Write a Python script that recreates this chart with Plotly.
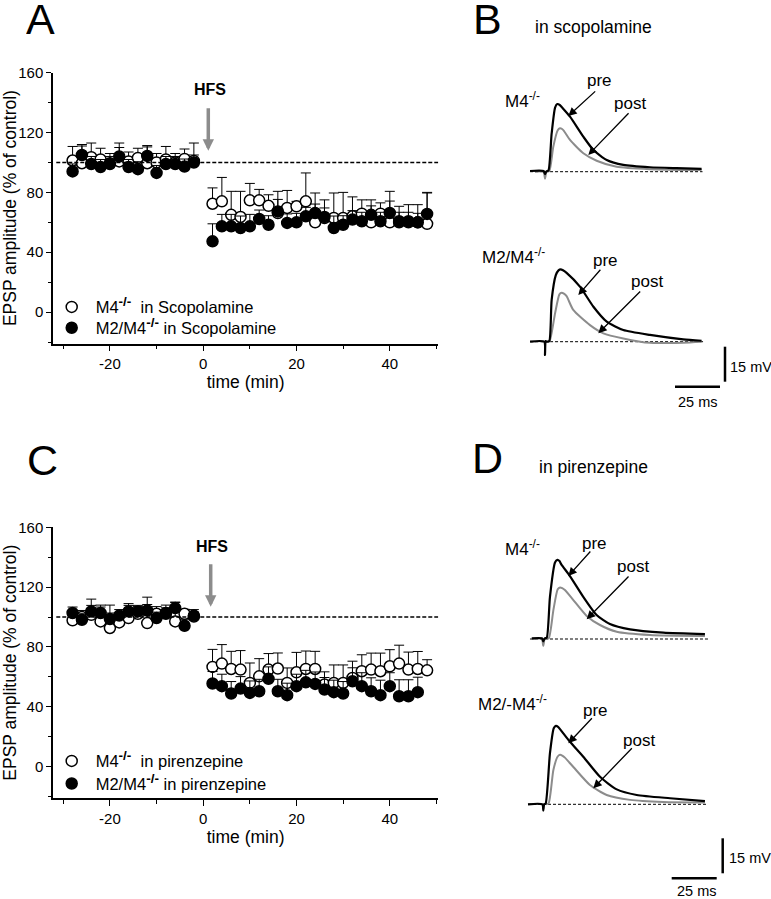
import plotly.graph_objects as go

W, H = 771, 899
FONT = "Liberation Sans, Arial, sans-serif"

# ---------------- data: panels A and C (EPSP amplitude, % of control) ----------------
t_pre = [-28, -26, -24, -22, -20, -18, -16, -14, -12, -10, -8, -6, -4, -2]
t_post = [2, 4, 6, 8, 10, 12, 14, 16, 18, 20, 22, 24, 26, 28, 30, 32, 34, 36, 38, 40, 42, 44, 46, 48]
t_post_c_filled = [2, 4, 6, 8, 10, 12, 14, 16, 18, 20, 22, 24, 26, 28, 30, 32, 34, 36, 38, 40, 42, 44, 46]

# A: M4-/- in scopolamine (open)
a_open_pre = [101.3, 99.5, 103.5, 102, 99.5, 100.7, 100.7, 103, 99.5, 100, 102, 100, 102.4, 101]
a_open_pre_err = [9.4, 12.5, 9.5, 7.5, 6.5, 12.3, 6.3, 6.5, 11.8, 6, 8.7, 6, 6.6, 12]
a_open_post = [72.4, 74, 65, 63.6, 74.7, 74.7, 71, 66.2, 69.6, 70.7, 74, 60, 62.9, 62.9, 62.9, 64,
               65.8, 60, 65.8, 60, 60, 60, 60, 59]
a_open_post_err = [10.6, 16, 15.7, 17.1, 11.3, 7.3, 7.4, 14.5, 11.7, 3.3, 19, 19.6, 12.1, 16.7, 17.1, 13,
                   9.2, 15, 7.2, 20.7, 10.7, 11.8, 11.8, 21]
# A: M2/M4-/- in scopolamine (filled)
a_fill_pre = [94, 105, 99, 97, 99, 104, 97, 95.5, 104.4, 93, 99, 99, 97.3, 100]
a_fill_pre_err = [5, 6, 5, 5, 5, 6, 5, 5, 6, 5, 5, 5, 5, 5]
a_fill_post = [47.3, 57.3, 57.3, 56.2, 57.3, 62.2, 58.4, 67.3, 59.6, 60, 64, 66.2, 63.6, 56.2, 58.4, 61.8,
               60.7, 65, 60.7, 66.2, 60.7, 60.7, 60, 65.6]
a_fill_post_err = [11.7, 8, 8, 8, 8, 6, 6, 8, 6, 6, 6, 6, 6, 8, 6, 6, 6, 6, 6, 8, 6, 6, 6, 14]

# C: M4-/- in pirenzepine (open)
c_open_pre = [97.8, 100, 101.5, 97.1, 92.7, 96.4, 99.3, 102.2, 96, 102.2, 102.7, 97.1, 102.2, 100.4]
c_open_pre_err = [3, 4.4, 10.5, 10.9, 15.3, 6, 9.7, 4.8, 17.3, 4.8, 5.3, 12.7, 3, 3]
c_open_post = [66.7, 68.9, 65.3, 64.9, 56, 60.4, 64.9, 65.6, 56, 63.1, 65.3, 65.3, 54.9, 56, 56, 59.3,
               63.8, 64.9, 63.8, 67.1, 68.9, 64.9, 65.3, 64.4]
c_open_post_err = [11.7, 12.7, 11.8, 12.7, 13.3, 11.8, 10.7, 10.4, 10, 13.3, 12, 11.8, 8.5, 12, 12, 11.2,
                   11, 11, 12.1, 11.1, 12.3, 11.7, 11.7, 7.1]
# C: M2/M4-/- in pirenzepine (filled)
c_fill_pre = [102.7, 98.2, 103.8, 102.7, 98.7, 101, 103.8, 103.8, 104.4, 99.3, 102.2, 106, 94.2, 101]
c_fill_pre_err = [4, 4, 4, 4, 4, 4, 4, 4, 4, 4, 4, 4, 4, 4]
c_fill_post = [55.6, 53.8, 48.9, 52.2, 49.3, 50.4, 58.7, 50.4, 47.8, 53.8, 56.4, 55.3, 51.6, 49.8, 48.9,
               57.1, 53.8, 50.4, 47.8, 53.8, 47.1, 47.1, 49.8]
c_fill_post_err = [8, 8, 8, 8, 8, 8, 8, 8, 8, 8, 8, 8, 8, 8, 8, 9, 9, 9, 10, 9, 11, 11, 10]

x_ticks = [-20, 0, 20, 40]
x_ticktext = ["-20", "0", "20", "40"]
x_minor = [-30, -10, 10, 30, 50]
y_ticks = [0, 40, 80, 120, 160]
y_ticktext = ["0", "40", "80", "120", "160"]
y_minor = [-20, 20, 60, 100, 140]

# ---------------- data: panels B and D (EPSP traces, ms / mV) ----------------
b_m4_pre_t = [-8.3, -0.8, 0, 0.8, 1.9, 3.7, 5.6, 6.8, 8.2, 9.5, 13.9, 21.3, 26.9, 34.3, 43.5, 58.3, 73, 87]
b_m4_pre_v = [0.3, 0.3, -1, 0.2, 0.5, 16.4, 27.5, 29, 28.6, 27.5, 23.6, 15, 9.3, 5, 2.9, 1.9, 1.5, 1.2]
b_m4_post_t = [-5.6, -0.8, 0, 0.8, 2.4, 4.6, 7, 8.3, 9.5, 10.5, 13.9, 21.3, 28.7, 39.8, 58.3, 87]
b_m4_post_v = [0, 0, -3, 0, 0.3, 10.7, 17.7, 18.6, 18.3, 17.5, 13.6, 7.9, 4.7, 2.1, 1.1, 0.7]
b_m24_pre_t = [-8.3, -0.4, 0, 0.4, 1.2, 2.4, 3.7, 6, 7.5, 8.7, 10, 12, 19.4, 26.9, 34.3, 43.5, 58.3, 76.8, 87]
b_m24_pre_v = [0, 0, -5.7, 0.3, 0, 0.3, 17.9, 28.5, 30.6, 31, 30.6, 29.5, 23.6, 15, 8.6, 5, 2.9, 1, 0.4]
b_m24_post_t = [1.5, 2.6, 5.6, 8, 9.3, 10.5, 12, 15.7, 25, 32.4, 43.5, 58.3, 76.8, 87]
b_m24_post_v = [0, 0.3, 12.2, 20.3, 21, 20.6, 19.5, 13.6, 7.1, 3.6, 1.4, -0.5, -0.4, 0]

d_m4_pre_t = [-6.4, -0.8, 0, 0.8, 1.9, 3.7, 6.5, 7.8, 9, 10, 14.8, 22.2, 29.6, 37, 48.2, 66.7, 89.8]
d_m4_pre_v = [0.3, 0.3, -1, 0.3, 0.5, 18.1, 32.8, 33.9, 33.4, 32, 27, 18.1, 10.3, 6.4, 4.1, 2.7, 2.1]
d_m4_post_t = [-6.4, -0.8, 0, 0.8, 3, 5.6, 8, 9.3, 10.5, 12, 16.7, 24.1, 31.5, 40.8, 59.3, 89.8]
d_m4_post_v = [0, 0, -3, 0, 0.3, 12.4, 21.3, 22.1, 21.8, 21, 16.7, 9.9, 6, 3.1, 1.7, 1.3]
d_m24_pre_t = [-8.5, -0.5, 0, 0.5, 1.3, 3.7, 5.8, 7, 8.2, 9.5, 14.8, 22.2, 31.5, 40.8, 51.9, 70.4, 89.8]
d_m24_pre_v = [0, 0, -2.7, 0, 0.3, 21.9, 32.6, 33.6, 33.2, 32, 26.8, 20.4, 11.8, 6.4, 4, 2.6, 1.4]
d_m24_post_t = [1.5, 3, 5.6, 8, 9.3, 10.5, 12, 16.7, 25.9, 35.2, 48.2, 66.7, 89.8]
d_m24_post_v = [0, 0.5, 14.7, 20.5, 21.2, 20.9, 20, 16, 8.3, 4, 1.9, 1, 0.8]

scale_mv = 15
scale_ms = 25

# ---------------- layout helpers (pixel geometry) ----------------
def dx(p0, p1):
    return [p0 / W, p1 / W]

def dy(p0, p1):
    return [1 - p1 / H, 1 - p0 / H]

def px(p):
    return p / W

def py(p):
    return 1 - p / H

# trace panels: pixel origin and scale
SX, SY = 1.8, 2.333  # px per ms, px per mV
B_X0, B_Y0 = 545.0, 171.7
D_X0, D_Y0 = 543.3, 639.0
B_OFF = -(341.7 - B_Y0) / SY
D_OFF = -(804.3 - D_Y0) / SY
PX_L, PX_R = 455, 771

fig = go.Figure()

open_marker = dict(symbol="circle", size=11, color="white", line=dict(color="black", width=1.5))
fill_marker = dict(symbol="circle", size=11, color="black", line=dict(color="black", width=1.5))

def err(vals):
    return dict(type="data", symmetric=False, array=vals, arrayminus=[0] * len(vals),
                color="black", thickness=1, width=5)

SUP = "<sup><b><span style='font-size:13.5px'>-/-</span></b></sup>"

# Panel A
fig.add_trace(go.Scatter(x=t_pre + t_post, y=a_open_pre + a_open_post, mode="markers",
                         marker=open_marker, error_y=err(a_open_pre_err + a_open_post_err),
                         name="M4" + SUP + "\u00a0\u00a0in Scopolamine",
                         xaxis="x", yaxis="y", legend="legend", hoverinfo="skip"))
fig.add_trace(go.Scatter(x=t_pre + t_post, y=a_fill_pre + a_fill_post, mode="markers",
                         marker=fill_marker, error_y=err(a_fill_pre_err + a_fill_post_err),
                         name="M2/M4" + SUP + " in Scopolamine",
                         xaxis="x", yaxis="y", legend="legend2", hoverinfo="skip"))
# Panel C
fig.add_trace(go.Scatter(x=t_pre + t_post, y=c_open_pre + c_open_post, mode="markers",
                         marker=open_marker, error_y=err(c_open_pre_err + c_open_post_err),
                         name="M4" + SUP + "\u00a0\u00a0in pirenzepine",
                         xaxis="x2", yaxis="y2", legend="legend3", hoverinfo="skip"))
fig.add_trace(go.Scatter(x=t_pre + t_post_c_filled, y=c_fill_pre + c_fill_post, mode="markers",
                         marker=fill_marker, error_y=err(c_fill_pre_err + c_fill_post_err),
                         name="M2/M4" + SUP + " in pirenzepine",
                         xaxis="x2", yaxis="y2", legend="legend4", hoverinfo="skip"))

# reference 100% lines
for xa, ya in (("x", "y"), ("x2", "y2")):
    fig.add_trace(go.Scatter(x=[-31.5, 50.4], y=[100, 100], mode="lines",
                             line=dict(color="black", width=1.5, dash="4px,2px"),
                             xaxis=xa, yaxis=ya, showlegend=False, hoverinfo="skip"))

GRAY = "#8c8c8c"

def trace(t, v, off, color, width, xa, ya):
    fig.add_trace(go.Scatter(x=t, y=[a + off for a in v], mode="lines",
                             line=dict(color=color, width=width, shape="spline", smoothing=0.6),
                             xaxis=xa, yaxis=ya, showlegend=False, hoverinfo="skip"))

def base(t0, t1, off, xa, ya):
    fig.add_trace(go.Scatter(x=[t0, t1], y=[off, off], mode="lines",
                             line=dict(color="black", width=1, dash="3px,2px"),
                             xaxis=xa, yaxis=ya, showlegend=False, hoverinfo="skip"))

# Panel B
base(-8.3, 87.5, 0, "x3", "y3")
base(-8.3, 88, B_OFF, "x3", "y3")
trace(b_m4_post_t, b_m4_post_v, 0, GRAY, 2, "x3", "y3")
trace(b_m4_pre_t, b_m4_pre_v, 0, "black", 2.2, "x3", "y3")
trace(b_m24_post_t, b_m24_post_v, B_OFF, GRAY, 2, "x3", "y3")
trace(b_m24_pre_t, b_m24_pre_v, B_OFF, "black", 2.2, "x3", "y3")
# Panel D
base(-7.4, 92.6, 0, "x4", "y4")
base(-8.5, 90.8, D_OFF, "x4", "y4")
trace(d_m4_post_t, d_m4_post_v, 0, GRAY, 2, "x4", "y4")
trace(d_m4_pre_t, d_m4_pre_v, 0, "black", 2.2, "x4", "y4")
trace(d_m24_post_t, d_m24_post_v, D_OFF, GRAY, 2, "x4", "y4")
trace(d_m24_pre_t, d_m24_pre_v, D_OFF, "black", 2.2, "x4", "y4")

# scale bars
def scalebar(tx, vtop, th0, vh, xa, ya):
    fig.add_trace(go.Scatter(x=[tx, tx], y=[vtop, vtop - scale_mv], mode="lines",
                             line=dict(color="black", width=2.5), xaxis=xa, yaxis=ya,
                             showlegend=False, hoverinfo="skip"))
    fig.add_trace(go.Scatter(x=[th0, th0 + scale_ms], y=[vh, vh], mode="lines",
                             line=dict(color="black", width=2.5), xaxis=xa, yaxis=ya,
                             showlegend=False, hoverinfo="skip"))

scalebar((725 - B_X0) / SX, (B_Y0 - 346.7) / SY, (675 - B_X0) / SX, (B_Y0 - 386.7) / SY, "x3", "y3")
scalebar((722.7 - D_X0) / SX, (D_Y0 - 838.3) / SY, (671.7 - D_X0) / SX, (D_Y0 - 878.3) / SY, "x4", "y4")

axis_common = dict(showline=True, linecolor="black", linewidth=1.5, ticks="outside",
                   tickcolor="black", tickwidth=1.3, showgrid=False, zeroline=False,
                   tickfont=dict(family=FONT, size=15, color="black"), automargin=False)

def xax(anchor):
    return dict(axis_common, domain=dx(53, 438.3), range=[-32.2, 50.4], anchor=anchor,
                tickmode="array", tickvals=x_ticks, ticktext=x_ticktext, ticklen=6,
                minor=dict(ticks="outside", tickvals=x_minor, ticklen=4, tickwidth=1.3, tickcolor="black"),
                title=dict(text="time (min)", font=dict(family=FONT, size=17.5, color="black"), standoff=3))

def yax(anchor, p0, p1):
    return dict(axis_common, domain=dy(p0, p1), range=[-21, 160], anchor=anchor,
                tickmode="array", tickvals=y_ticks, ticktext=y_ticktext, ticklen=5,
                minor=dict(ticks="outside", tickvals=y_minor, ticklen=3, tickwidth=1.3, tickcolor="black"),
                title=dict(text="EPSP amplitude (% of control)",
                           font=dict(family=FONT, size=17.5, color="black"), standoff=2))

hidden = dict(visible=False, showgrid=False, zeroline=False, fixedrange=True)

def trace_axes(x0, y0, ytop, ybot):
    xa = dict(hidden, domain=dx(PX_L, PX_R), range=[(PX_L - x0) / SX, (PX_R - x0) / SX])
    ya = dict(hidden, domain=dy(ytop, ybot), range=[(y0 - ybot) / SY, (y0 - ytop) / SY])
    return xa, ya

x3, y3 = trace_axes(B_X0, B_Y0, 40, 420)
x4, y4 = trace_axes(D_X0, D_Y0, 480, 899)
x3["anchor"] = "y3"; y3["anchor"] = "x3"
x4["anchor"] = "y4"; y4["anchor"] = "x4"

def leg(cx, cy):
    return dict(x=px(cx - 24), y=py(cy - 17), xanchor="left", yanchor="top",
                bgcolor="rgba(0,0,0,0)", borderwidth=0, itemwidth=38,
                font=dict(family=FONT, size=16.5, color="black"), tracegroupgap=0,
                itemclick=False, itemdoubleclick=False)

ann = []

def text(s, x, y, size, xanchor="center", bold=False, height=None):
    a = dict(text=("<b>%s</b>" % s) if bold else s, x=px(x), y=py(y), xref="paper", yref="paper",
             showarrow=False, xanchor=xanchor, yanchor="middle",
             font=dict(family=FONT, size=size, color="black"))
    if height:
        a["height"] = height
        a["valign"] = "middle"
    ann.append(a)

def arrow(tail, head, color="black", width=1.3, size=1.3):
    ann.append(dict(text="", x=px(head[0]), y=py(head[1]), xref="paper", yref="paper",
                    ax=tail[0] - head[0], ay=tail[1] - head[1], axref="pixel", ayref="pixel",
                    showarrow=True, arrowhead=2, arrowsize=size, arrowwidth=width, arrowcolor=color))

# panel letters and titles
text("A", 40, 19, 43, height=36)
text("B", 487, 19, 43, height=36)
text("C", 42.5, 460, 43, height=36)
text("D", 487, 458, 43, height=36)
text("in scopolamine", 533, 27, 17.5, xanchor="left")
text("in pirenzepine", 537, 467, 17.5, xanchor="left")
# HFS markers
text("HFS", 210, 90, 16, bold=True)
arrow((208.3, 106.7), (208.3, 150.7), color=GRAY, width=3.5, size=0.65)
text("HFS", 212, 546.7, 16, bold=True)
arrow((210.7, 562.7), (210.7, 606.7), color=GRAY, width=3.5, size=0.65)

# panel B labels
text("M4<sup>-/-</sup>", 503, 100, 17, xanchor="left")
text("pre", 599, 80.3, 17)
text("post", 629.5, 103.3, 17)
arrow((596.7, 90), (568.3, 116))
arrow((630, 111.7), (588.3, 155))
text("M2/M4<sup>-/-</sup>", 480, 255.7, 17, xanchor="left")
text("pre", 605.5, 260, 17)
text("post", 646.7, 281, 17)
arrow((601.7, 268.3), (578.3, 295))
arrow((641.7, 290), (598.3, 333.3))
text("15 mV", 728, 366.7, 14.5, xanchor="left")
text("25 ms", 698.3, 401.7, 14.5)

# panel D labels
text("M4<sup>-/-</sup>", 503.3, 548.3, 17, xanchor="left")
text("pre", 594, 543.3, 17)
text("post", 632.7, 566.7, 17)
arrow((591.7, 550), (568.3, 576))
arrow((630, 575), (586.7, 619.3))
text("M2/-M4<sup>-/-</sup>", 476, 703.3, 17, xanchor="left")
text("pre", 595.3, 710, 17)
text("post", 638.7, 740, 17)
arrow((593.3, 716.7), (568.3, 743.3))
arrow((633.3, 746.7), (593.3, 788.3))
text("15 mV", 726.7, 858.3, 14.5, xanchor="left")
text("25 ms", 696.7, 891, 14.5)

fig.update_layout(
    width=W, height=H, autosize=False,
    margin=dict(l=0, r=0, t=0, b=0, pad=0),
    paper_bgcolor="white", plot_bgcolor="rgba(0,0,0,0)",
    font=dict(family=FONT, color="black"),
    xaxis=xax("y"), yaxis=yax("x", 72.7, 343.5),
    xaxis2=xax("y2"), yaxis2=yax("x2", 527.3, 798.1),
    xaxis3=x3, yaxis3=y3, xaxis4=x4, yaxis4=y4,
    legend=leg(71.7, 306.7), legend2=leg(71.7, 327.5),
    legend3=leg(71.7, 760.7), legend4=leg(71.7, 783.3),
    annotations=ann,
)

fig.write_html("out.html", config={"displayModeBar": False},
               post_script="document.body.style.margin='0';document.body.style.overflow='hidden';")
